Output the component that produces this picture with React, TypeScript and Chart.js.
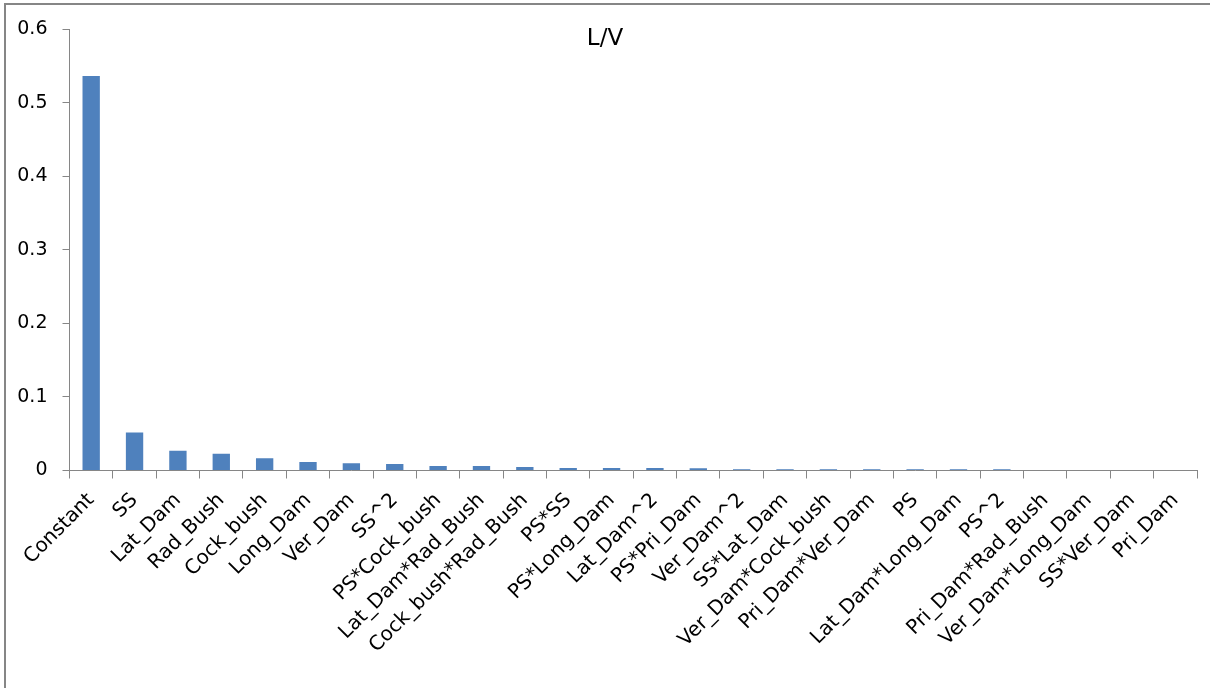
import React, { useEffect, useRef } from "react";
import { Chart, registerables } from "chart.js";

Chart.register(...registerables);

const categories = [
  "Constant", "SS", "Lat_Dam", "Rad_Bush", "Cock_bush", "Long_Dam", "Ver_Dam", "SS^2",
  "PS*Cock_bush", "Lat_Dam*Rad_Bush", "Cock_bush*Rad_Bush", "PS*SS", "PS*Long_Dam",
  "Lat_Dam^2", "PS*Pri_Dam", "Ver_Dam^2", "SS*Lat_Dam", "Ver_Dam*Cock_bush",
  "Pri_Dam*Ver_Dam", "PS", "Lat_Dam*Long_Dam", "PS^2", "Pri_Dam*Rad_Bush",
  "Ver_Dam*Long_Dam", "SS*Ver_Dam", "Pri_Dam",
];

const values = [
  0.536, 0.0517, 0.0268, 0.0227, 0.0168, 0.0114, 0.01, 0.0087,
  0.006, 0.006, 0.0046, 0.0033, 0.0033,
  0.0033, 0.0032, 0.0018, 0.0018, 0.0018,
  0.0018, 0.0018, 0.0018, 0.0018, 0,
  0, 0, 0,
];

const chartTitle = "L/V";
const yMin = 0;
const yMax = 0.6;
const yStep = 0.1;

const FONT = "'DejaVu Sans', 'Open Sans', sans-serif";

export default function App() {
  const ref = useRef<HTMLCanvasElement | null>(null);

  useEffect(() => {
    if (!ref.current) return;
    const chart = new Chart(ref.current, {
      type: "bar",
      data: {
        labels: categories,
        datasets: [
          {
            label: chartTitle,
            data: values,
            backgroundColor: "#4F81BD",
            borderWidth: 0,
            barPercentage: 0.4,
            categoryPercentage: 1,
          },
        ],
      },
      options: {
        animation: false,
        responsive: false,
        maintainAspectRatio: false,
        layout: { padding: { top: 29, left: 0, right: 13, bottom: 0 } },
        plugins: {
          legend: { display: false },
          title: { display: false },
          tooltip: { enabled: false },
        },
        scales: {
          x: {
            afterFit: (s: any) => {
              s.height = 217.5;
            },
            grid: {
              display: true,
              drawOnChartArea: false,
              drawTicks: true,
              tickLength: 8,
              color: "#868686",
              offset: true,
            },
            border: { display: true, color: "#868686", width: 1 },
            ticks: {
              autoSkip: false,
              maxRotation: 45,
              minRotation: 45,
              padding: 10,
              color: "#000",
              font: { family: FONT, size: 20 },
            },
          },
          y: {
            min: yMin,
            max: yMax,
            afterFit: (s: any) => {
              s.width = 69.5;
            },
            grid: {
              display: true,
              drawOnChartArea: false,
              drawTicks: true,
              tickLength: 7,
              color: "#868686",
            },
            border: { display: true, color: "#868686", width: 1 },
            ticks: {
              stepSize: yStep,
              padding: 15,
              color: "#000",
              font: { family: FONT, size: 19 },
            },
          },
        },
      },
    });
    return () => chart.destroy();
  }, []);

  return (
    <div
      style={{
        position: "fixed",
        left: 0,
        top: 0,
        width: 1210,
        height: 688,
        background: "#fff",
        overflow: "hidden",
      }}
    >
      <div
        style={{
          position: "absolute",
          left: 4,
          top: 3,
          width: 1230,
          height: 710,
          border: "2px solid #868686",
          boxSizing: "border-box",
        }}
      />
      <canvas
        ref={ref}
        width={1210}
        height={688}
        style={{ position: "absolute", left: 0, top: 0, width: 1210, height: 688 }}
      />
      <div
        style={{
          position: "absolute",
          left: 0,
          width: 1210,
          top: 21,
          textAlign: "center",
          fontFamily: FONT,
          fontSize: 23,
          lineHeight: "32px",
          color: "#000",
        }}
      >
        {chartTitle}
      </div>
    </div>
  );
}
